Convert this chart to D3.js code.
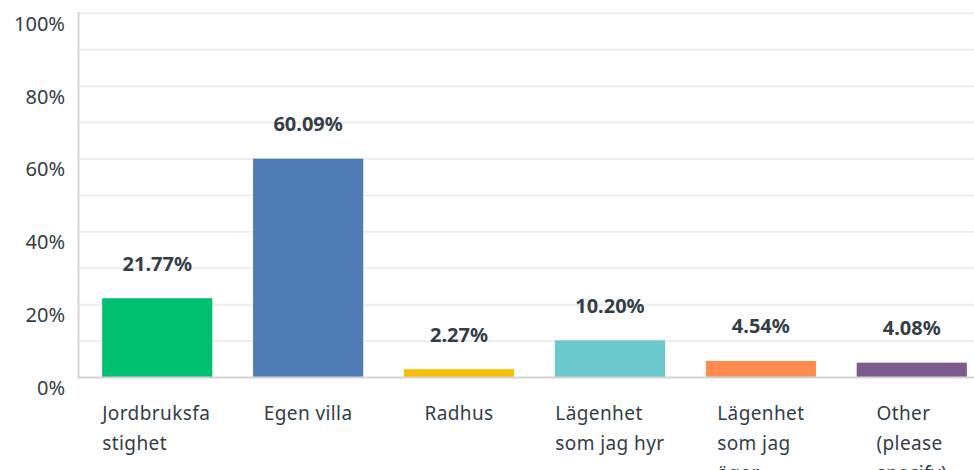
<!DOCTYPE html>
<html>
<head>
<meta charset="utf-8">
<script src="https://cdn.jsdelivr.net/npm/d3@7"></script>
<style>
  body { margin: 0; background: #fff; }
  svg { display: block; }
  text { font-family: "Noto Sans", sans-serif; fill: #333e48; }
</style>
</head>
<body>
<svg id="chart"></svg>
<script>
// answer categories, already split into the lines shown under each bar
const categories = ["Jordbruksfastighet", "Egen villa", "Radhus", "Lägenhet som jag hyr", "Lägenhet som jag äger", "Other (please specify)"];
const categoryLines = [
  ["Jordbruksfa", "stighet"],
  ["Egen villa"],
  ["Radhus"],
  ["Lägenhet", "som jag hyr"],
  ["Lägenhet", "som jag", "äger"],
  ["Other", "(please", "specify)"]
];
const values = [21.77, 60.09, 2.27, 10.20, 4.54, 4.08];
const colors = ["#00bf6f", "#507cb6", "#f9be00", "#6bc8cd", "#ff8b4f", "#7d5b8e"];
const yTicks = [0, 20, 40, 60, 80, 100];
const gridTicks = d3.range(0, 101, 10);

const width = 974, height = 470;
const svg = d3.select("#chart").attr("width", width).attr("height", height);

let y = d3.scaleLinear().domain([0, 100]).range([377.5, 13.3]);
let x = d3.scaleBand()
  .domain(categories)
  .range([78, 991])
  .paddingInner(0.27)
  .paddingOuter(0.16);

// gridlines
svg.append("g")
  .selectAll("line")
  .data(gridTicks.filter(d => d > 0))
  .join("line")
  .attr("x1", 79).attr("x2", width)
  .attr("y1", d => y(d)).attr("y2", d => y(d))
  .attr("stroke", "#ededed")
  .attr("stroke-width", 2);

// y tick labels (sit a bit under their gridline)
svg.append("g")
  .selectAll("text")
  .data(yTicks)
  .join("text")
  .attr("x", 65)
  .attr("y", d => y(d) + 10)
  .attr("text-anchor", "end")
  .attr("dominant-baseline", "central")
  .style("font-size", "20px")
  .text(d => d + "%");

// bars
svg.append("g")
  .selectAll("rect")
  .data(values)
  .join("rect")
  .attr("x", (d, i) => x(categories[i]))
  .attr("width", x.bandwidth())
  .attr("y", d => y(d))
  .attr("height", d => y(0) - y(d))
  .attr("fill", (d, i) => colors[i]);

// value labels
svg.append("g")
  .selectAll("text")
  .data(values)
  .join("text")
  .attr("x", (d, i) => x(categories[i]) + x.bandwidth() / 2)
  .attr("y", d => y(d) - 35)
  .attr("text-anchor", "middle")
  .attr("dominant-baseline", "central")
  .style("font-size", "20px")
  .style("font-weight", "bold")
  .text(d => d.toFixed(2) + "%");

// axis lines
svg.append("line")
  .attr("x1", 78.5).attr("x2", 78.5)
  .attr("y1", 12).attr("y2", y(0) + 1)
  .attr("stroke", "#d4d4d4").attr("stroke-width", 2);
svg.append("line")
  .attr("x1", 78).attr("x2", width)
  .attr("y1", y(0)).attr("y2", y(0))
  .attr("stroke", "#d4d4d4").attr("stroke-width", 2);

// category labels: block centred under the bar, lines left-aligned
let labels = svg.append("g")
  .selectAll("text")
  .data(categoryLines)
  .join("text")
  .style("font-size", "19px")
  .style("letter-spacing", "0.4px");

labels.each(function(lines, i) {
  let t = d3.select(this);
  lines.forEach((line, j) => {
    t.append("tspan")
      .attr("x", 0)
      .attr("y", 413 + j * 30)
      .attr("dominant-baseline", "central")
      .text(line);
  });
  let w = this.getBBox().width;
  let cx = x(categories[i]) + x.bandwidth() / 2;
  t.selectAll("tspan").attr("x", cx - w / 2);
});
</script>
</body>
</html>
